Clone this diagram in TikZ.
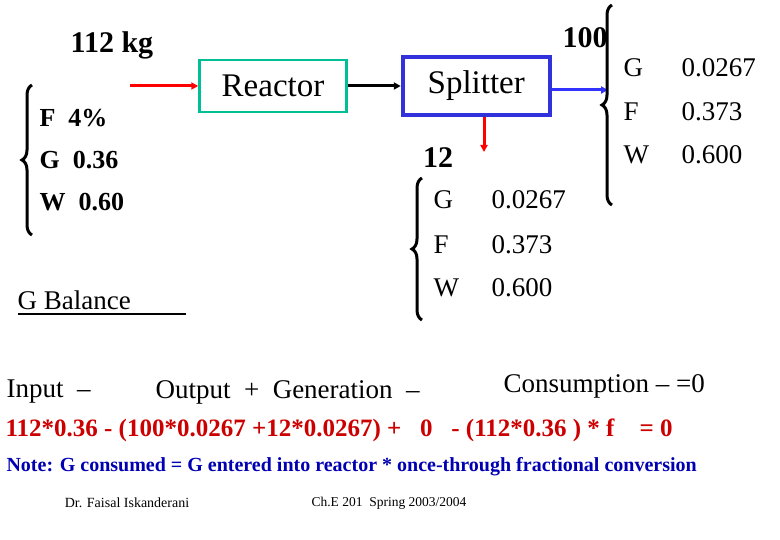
\documentclass[tikz,border=0pt]{standalone}
\usepackage{fontspec}
\setmainfont{Liberation Serif}
\usetikzlibrary{positioning, arrows.meta, decorations.pathreplacing}
\begin{document}
\begin{tikzpicture}[x=1pt,y=-1pt,
    unit/.style={rectangle, draw, minimum width=147pt, font=\fontsize{33}{35}\selectfont},
    lbl/.style={anchor=west, font=\fontsize{27}{29}\selectfont},
    blbl/.style={anchor=west, font=\bfseries\fontsize{26}{28}\selectfont},
    flow/.style={-{Triangle[length=7pt,width=7pt]}, line width=3pt},
    curly/.style={decorate, decoration={brace, amplitude=10pt}, line width=3pt}]

    \useasboundingbox (0,0) rectangle (780,540);

    % units
    \node[unit, draw={rgb,255:red,0;green,190;blue,150}, line width=2.5pt, minimum height=52pt] (reactor) at (273,86) {Reactor};
    \node[unit, draw={rgb,255:red,50;green,50;blue,220}, line width=4pt, minimum height=58pt, right=53pt of reactor] (splitter) {Splitter};

    % streams
    \coordinate (feed) at (130,86);
    \coordinate (prod) at (608,90);
    \coordinate (rec) at (484,152);
    \draw[flow, red] (feed) -- (reactor.west);
    \draw[flow, black] (reactor.east) -- (splitter.west);
    \draw[flow, blue!80] (splitter.east |- prod) -- (prod);
    \draw[flow, red] (splitter.south -| rec) -- (rec);

    % feed
    \node[anchor=center, font=\bfseries\fontsize{30}{32}\selectfont] (feedkg) at (112,45) {112 kg};
    \draw[curly] (32,235) -- (32,85);
    \node[blbl] (fF) at (36,118) {F\ \ 4\%};
    \node[blbl] (fG) at (36,160) {G\ \ 0.36};
    \node[blbl] (fW) at (36,202) {W\ \ 0.60};

    % product
    \node[font=\bfseries\fontsize{30}{32}\selectfont] (pkg) at (585,38) {100};
    \draw[curly] (612,205) -- (612,5);
    \node[lbl] (pG) at (620,68) {G};
    \node[lbl] (pF) at (620,112) {F};
    \node[lbl] (pW) at (620,155) {W};
    \node[lbl] (pGv) at (678,68) {0.0267};
    \node[lbl] (pFv) at (678,112) {0.373};
    \node[lbl] (pWv) at (678,155) {0.600};

    % recycle
    \node[font=\bfseries\fontsize{30}{32}\selectfont] (rkg) at (438,158) {12};
    \draw[curly] (422,320) -- (422,178);
    \node[lbl] (rG) at (430,200) {G};
    \node[lbl] (rF) at (430,245) {F};
    \node[lbl] (rW) at (430,288) {W};
    \node[lbl] (rGv) at (488,200) {0.0267};
    \node[lbl] (rFv) at (488,245) {0.373};
    \node[lbl] (rWv) at (488,288) {0.600};

    % balance
    \node[lbl] (gbal) at (14,300) {G Balance};
    \draw[line width=1.5pt] (18,314) -- (186,314);
    \node[lbl] (inp) at (3,392) {Input \ --};
    \node[lbl] (outp) at (152,392) {Output \ + \ Generation \ --};
    \node[lbl] (cons) at (500,386) {Consumption -- =0};
    \node[anchor=west, text=red!80!black, font=\bfseries\fontsize{25}{27}\selectfont] (eqn) at (2,430)
        {112*0.36 - (100*0.0267 +12*0.0267) + \ \ 0 \ \ - (112*0.36 ) * f \ \ \ = 0};
    \node[anchor=west, text=blue!70!black, font=\bfseries\fontsize{20}{22}\selectfont] (note) at (3,467)
        {Note: G consumed = G entered into reactor * once-through fractional conversion};
    \node[font=\fontsize{14}{16}\selectfont] (auth) at (127,503) {Dr. Faisal Iskanderani};
    \node[font=\fontsize{13.5}{15}\selectfont] (course) at (389,503) {Ch.E 201\ \ Spring 2003/2004};
\end{tikzpicture}
\end{document}
